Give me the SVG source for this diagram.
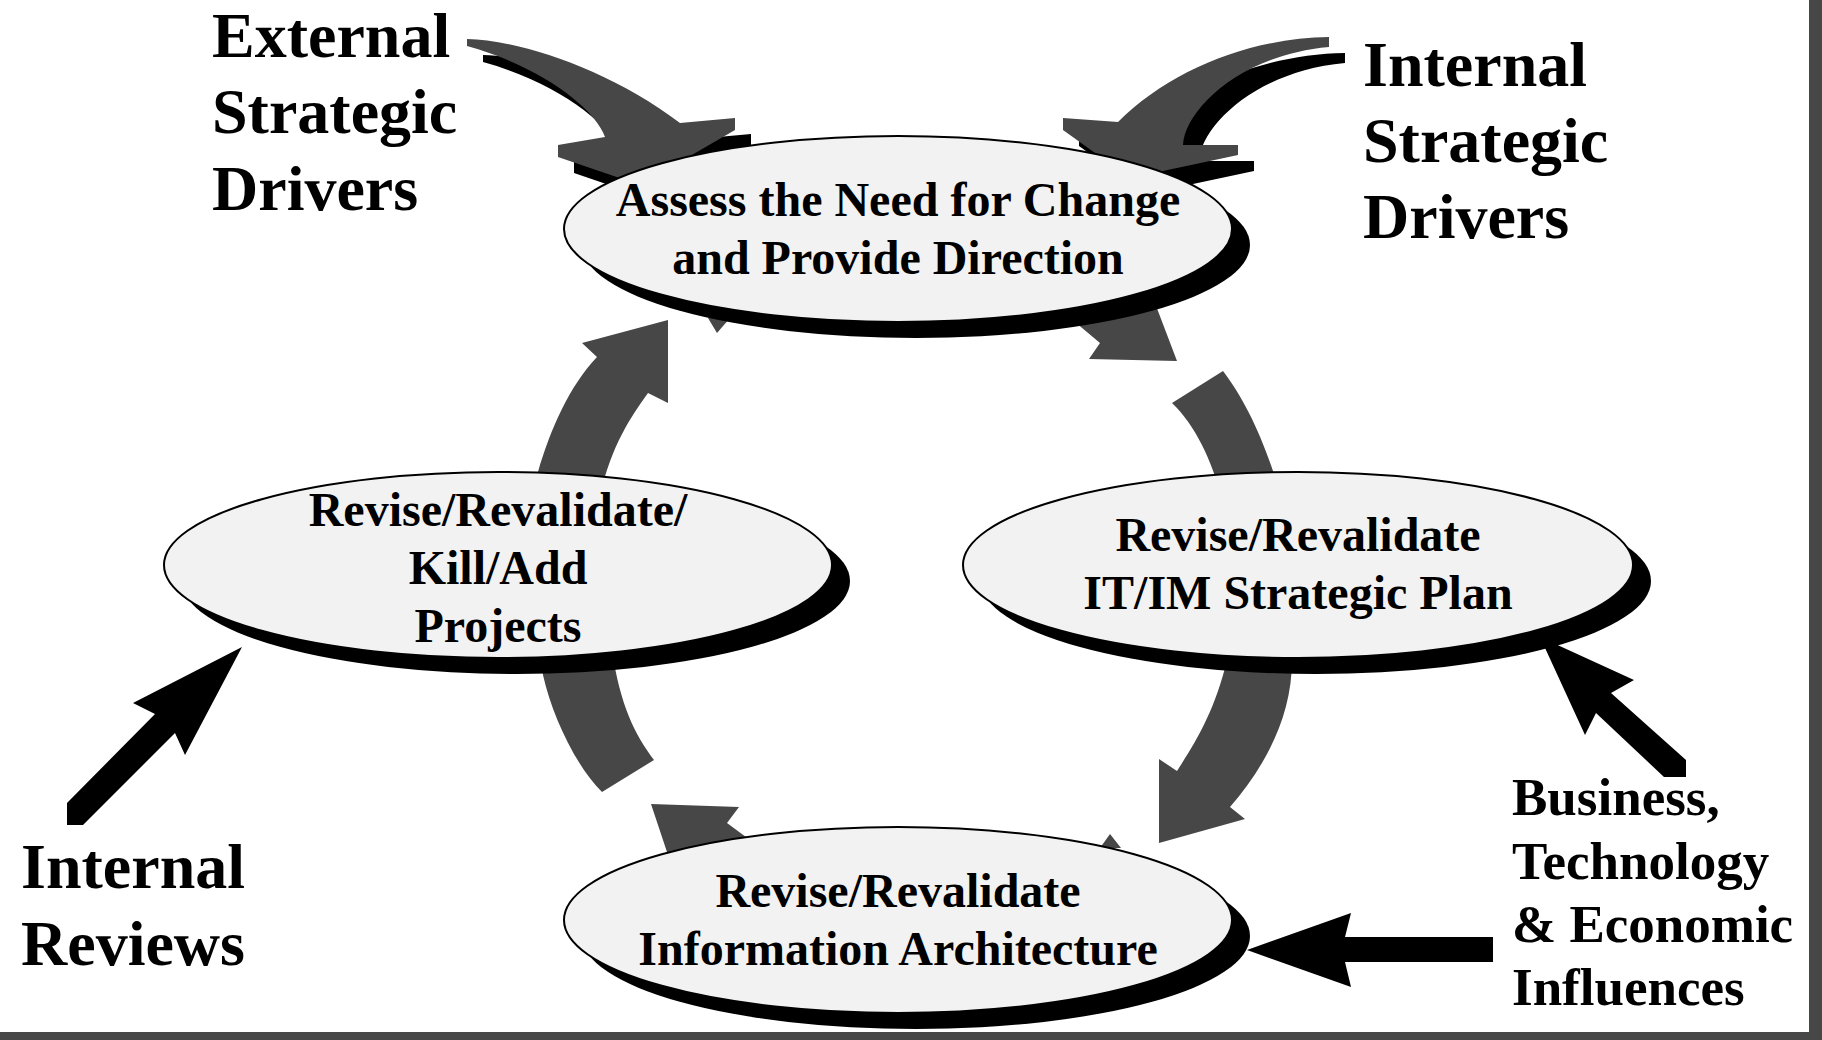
<svg xmlns="http://www.w3.org/2000/svg" width="1822" height="1040" viewBox="0 0 1822 1040">
<style>
text{font-family:'Liberation Serif','Times New Roman',serif;font-weight:bold;fill:#000}
.nt{font-size:48px;text-anchor:middle}
.lb{font-size:64px}
.lb2{font-size:53px}
.ell{fill:#f2f2f2;stroke:#000;stroke-width:2}
.sh{fill:#000}
.gr{fill:#474747}
.bk{fill:#000}
</style>
<rect width="1822" height="1040" fill="#fff"/>
<rect x="1809" y="0" width="13" height="1040" fill="#474747"/>
<rect x="0" y="1032" width="1822" height="8" fill="#474747"/>

<g id="connectors">
  <!-- left -> top -->
  <path class="gr" d="M535,495 L538,472 C550,430 570,385 597,357 L582,343 L668,320 L668,403 L648,393 C630,418 612,445 600,495 Z"/>
  <polygon class="gr" points="708,318 730,318 717,333"/>
  <!-- left -> bottom -->
  <path class="gr" d="M540,650 L543,675 C552,715 575,765 602,792 L654,760 C635,735 620,705 612,650 Z"/>
  <polygon class="gr" points="651,804 739,807 727,823 750,840 700,870 667,852"/>
  <!-- top -> right -->
  <polygon class="gr" points="1075,322 1100,343 1089,359 1177,361 1150,290"/>
  <path class="gr" d="M1172,403 L1223,371 C1245,400 1265,440 1282,500 L1222,500 C1212,460 1195,425 1172,403 Z"/>
  <!-- right -> bottom -->
  <path class="gr" d="M1227,660 L1292,660 C1292,720 1262,770 1230,807 L1245,819 L1159,843 L1159,759 L1177,771 C1197,740 1215,710 1227,660 Z"/>
  <polygon class="gr" points="1100,848 1110,834 1121,848"/>
  <!-- external strategic drivers 3D arrow -->
  <path class="bk" transform="translate(16,16)" d="M467,39 C520,40 610,70 680,123 L735,118 L735,130 L640,185 L558,157 L558,145 L605,137 C595,108 540,66 467,46 Z"/>
  <path class="gr" d="M467,39 C520,40 610,70 680,123 L735,118 L735,130 L640,185 L558,157 L558,145 L605,137 C595,108 540,66 467,46 Z"/>
  <!-- internal strategic drivers 3D arrow -->
  <path class="bk" transform="translate(16,16)" d="M1329,37 C1250,38 1170,70 1118,122 L1063,118 L1063,130 L1130,178 L1238,155 L1238,145 L1183,145 C1185,110 1240,55 1329,47 Z"/>
  <path class="gr" d="M1329,37 C1250,38 1170,70 1118,122 L1063,118 L1063,130 L1130,178 L1238,155 L1238,145 L1183,145 C1185,110 1240,55 1329,47 Z"/>
</g>

<g id="node-assess">
  <ellipse class="sh" cx="916" cy="245" rx="334" ry="93"/>
  <ellipse class="ell" cx="898" cy="229" rx="334" ry="93"/>
  <text class="nt" x="898" y="216">Assess the Need for Change</text>
  <text class="nt" x="898" y="274">and Provide Direction</text>
</g>

<g id="node-projects">
  <ellipse class="sh" cx="516" cy="581" rx="334" ry="93"/>
  <ellipse class="ell" cx="498" cy="565" rx="334" ry="93"/>
  <text class="nt" x="498" y="526">Revise/Revalidate/</text>
  <text class="nt" x="498" y="584">Kill/Add</text>
  <text class="nt" x="498" y="642">Projects</text>
</g>

<g id="node-plan">
  <ellipse class="sh" cx="1316" cy="581" rx="335" ry="93"/>
  <ellipse class="ell" cx="1298" cy="565" rx="335" ry="93"/>
  <text class="nt" x="1298" y="551">Revise/Revalidate</text>
  <text class="nt" x="1298" y="609">IT/IM Strategic Plan</text>
</g>

<g id="node-architecture">
  <ellipse class="sh" cx="916" cy="936" rx="334" ry="93"/>
  <ellipse class="ell" cx="898" cy="920" rx="334" ry="93"/>
  <text class="nt" x="898" y="907">Revise/Revalidate</text>
  <text class="nt" x="898" y="965">Information Architecture</text>
</g>

<g id="influence-arrows">
  <polygon class="bk" points="67,825 67,803 155,714 133,703 242,647 185,755 175,733 83,825"/>
  <polygon class="bk" points="1540,637 1634,680 1611,693 1686,760 1686,777 1664,777 1596,713 1585,735"/>
  <polygon class="bk" points="1247,950 1351,913 1345,937 1493,937 1493,962 1345,962 1351,987"/>
</g>

<g id="label-external">
  <text class="lb" x="212" y="57">External</text>
  <text class="lb" x="212" y="133">Strategic</text>
  <text class="lb" x="212" y="210">Drivers</text>
</g>
<g id="label-internal">
  <text class="lb" x="1363" y="86">Internal</text>
  <text class="lb" x="1363" y="162">Strategic</text>
  <text class="lb" x="1363" y="238">Drivers</text>
</g>
<g id="label-reviews">
  <text class="lb" x="21" y="888">Internal</text>
  <text class="lb" x="21" y="965">Reviews</text>
</g>
<g id="label-influences">
  <text class="lb2" x="1512" y="815">Business,</text>
  <text class="lb2" x="1512" y="879">Technology</text>
  <text class="lb2" x="1512" y="942">&amp; Economic</text>
  <text class="lb2" x="1512" y="1005">Influences</text>
</g>
</svg>
